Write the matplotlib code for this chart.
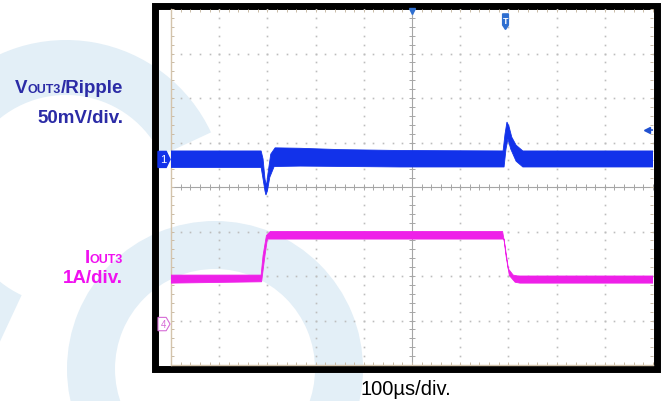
import numpy as np
import matplotlib.pyplot as plt
from matplotlib.patches import Rectangle, Wedge, Polygon

plt.rcParams['font.family'] = ['Liberation Sans', 'DejaVu Sans']

# Screen: 10 horizontal divisions of 100 us, 8 vertical divisions
t_div = 100.0
n_xdiv = 10
n_ydiv = 8

# Channel 1 (VOUT3 ripple) - envelope of the noisy trace, in divisions
blue_t_up = [0, 187, 191, 195, 198, 201, 207, 216, 268, 351, 475, 689, 693, 697, 701, 707, 716, 730, 1000]
blue_up = [4.81, 4.81, 4.63, 4.18, 4.02, 4.29, 4.74, 4.88, 4.87, 4.84, 4.82, 4.81, 5.19, 5.46, 5.37, 5.12, 4.94, 4.81, 4.81]
blue_t_lo = [0, 187, 191, 195, 197, 200, 205, 214, 268, 475, 691, 695, 699, 705, 716, 730, 1000]
blue_lo = [4.44, 4.44, 4.18, 3.91, 3.82, 3.91, 4.22, 4.46, 4.47, 4.45, 4.45, 4.85, 5.08, 4.85, 4.58, 4.45, 4.45]

# Channel 4 (IOUT3 load step) - envelope, in divisions
mag_t_up = [0, 187, 191, 198, 206, 688, 693, 700, 710, 720, 1000]
mag_up = [2.02, 2.02, 2.46, 2.91, 3.00, 3.00, 2.68, 2.16, 2.02, 2.00, 2.00]
mag_t_lo = [0, 188, 195, 200, 209, 691, 695, 702, 714, 724, 1000]
mag_lo = [1.84, 1.87, 2.46, 2.83, 2.83, 2.83, 2.46, 2.01, 1.86, 1.84, 1.84]

ch1_level = 4.62
ch4_level = 0.92
trig_time = 694
trig_level = 5.29

blue = '#1232ea'
magenta = '#ee20e8'
wm = '#e3eff7'

fig = plt.figure(figsize=(6.7, 4.02), dpi=100)

# background layer in pixel coordinates (y downwards)
bg = fig.add_axes([0, 0, 1, 1])
bg.set_xlim(0, 670)
bg.set_ylim(402, 0)
bg.axis('off')

# watermark rings
bg.add_patch(Wedge((66, 201), 160, 115, 335, width=55, color=wm, lw=0, zorder=0))
bg.add_patch(Wedge((215, 370), 148, 0, 360, width=48, color=wm, lw=0, zorder=0))

# scope frame
bg.add_patch(Rectangle((155, 6.5), 501.5, 363.5, fill=False, ec='black', lw=5.0, zorder=5))

# channel labels
lab_blue = '#2b2ba6'
lab_mag = '#f010f0'
bg.text(27.5, 93.3, 'V', color=lab_blue, fontsize=13.5, fontweight='bold', ha='right', va='baseline')
bg.text(61, 93.3, 'OUT3', color=lab_blue, fontsize=9, fontweight='bold', ha='right', va='baseline')
bg.text(123, 93.3, '/Ripple', color=lab_blue, fontsize=13.5, fontweight='bold', ha='right', va='baseline')
bg.text(123, 123.3, '50mV/div.', color=lab_blue, fontsize=13.5, fontweight='bold', ha='right', va='baseline')
bg.text(90.5, 263.3, 'I', color=lab_mag, fontsize=13.5, fontweight='bold', ha='right', va='baseline')
bg.text(123, 263.3, 'OUT3', color=lab_mag, fontsize=9, fontweight='bold', ha='right', va='baseline')
bg.text(123, 283.3, '1A/div.', color=lab_mag, fontsize=13.5, fontweight='bold', ha='right', va='baseline')
bg.text(405.5, 395, '100\u00b5s/div.', color='black', fontsize=14.5, ha='center', va='baseline')

# scope screen
ax = fig.add_axes([171 / 670, 36 / 402, 482 / 670, 356 / 402])
ax.set_facecolor('none')
ax.set_xlim(0, n_xdiv * t_div)
ax.set_ylim(0, n_ydiv)

major_x = np.arange(0, n_xdiv + 1) * t_div
minor_x = np.arange(0, n_xdiv * 5 + 1) * t_div / 5
major_y = np.arange(0, n_ydiv + 1)
minor_y = np.arange(0, n_ydiv * 5 + 1) / 5

ax.set_xticks(major_x)
ax.set_xticks(minor_x, minor=True)
ax.set_yticks(major_y)
ax.set_yticks(minor_y, minor=True)
ax.tick_params(which='both', direction='in', length=2.2, width=0.7, color='#c9bba6',
               top=True, right=True, labelbottom=False, labelleft=False)
for s in ['left', 'bottom']:
    ax.spines[s].set_color('#d4c4ac')
    ax.spines[s].set_linewidth(1.0)
for s in ['top', 'right']:
    ax.spines[s].set_visible(False)

# dotted graticule
gx, gy = [], []
for yv in major_y[1:-1]:
    if yv == n_ydiv / 2:
        continue
    gx.extend(minor_x)
    gy.extend([yv] * len(minor_x))
for xv in major_x[1:-1]:
    if xv == n_xdiv * t_div / 2:
        continue
    gx.extend([xv] * len(minor_y))
    gy.extend(minor_y)
ax.plot(gx, gy, 's', ms=1.2, mec='none', mfc='#bdbdbd', zorder=1)

# center cross with ticks
ax.axhline(n_ydiv / 2, color='#a6a6a6', lw=0.8, zorder=1)
ax.axvline(n_xdiv * t_div / 2, color='#a6a6a6', lw=0.8, zorder=1)
ax.plot(minor_x, [n_ydiv / 2] * len(minor_x), '|', ms=4, mew=0.7, color='#a6a6a6', zorder=1)
ax.plot([n_xdiv * t_div / 2] * len(minor_y), minor_y, '_', ms=4, mew=0.7, color='#a6a6a6', zorder=1)

# traces as filled envelopes
ax.fill(np.concatenate([blue_t_up, blue_t_lo[::-1]]), np.concatenate([blue_up, blue_lo[::-1]]),
        color=blue, lw=0.6, zorder=3)
ax.fill(np.concatenate([mag_t_up, mag_t_lo[::-1]]), np.concatenate([mag_up, mag_lo[::-1]]),
        color=magenta, lw=0.6, zorder=3)

# channel markers
ax.add_patch(Polygon([(-27, ch1_level + 0.18), (-10, ch1_level + 0.18), (-2, ch1_level),
                      (-10, ch1_level - 0.18), (-27, ch1_level - 0.18)],
                     closed=True, fc=blue, ec=blue, clip_on=False, zorder=4))
ax.text(-17, ch1_level, '1', color='white', fontsize=8, ha='center', va='center', clip_on=False, zorder=5)
ax.add_patch(Polygon([(-27, ch4_level + 0.15), (-10, ch4_level + 0.15), (-2, ch4_level),
                      (-10, ch4_level - 0.15), (-27, ch4_level - 0.15)],
                     closed=True, fc='white', ec='#d66cd6', lw=0.8, clip_on=False, zorder=4))
ax.text(-15, ch4_level, '4', color='#d66cd6', fontsize=7, ha='center', va='center', clip_on=False, zorder=5)

# trigger position / level markers
ax.add_patch(Polygon([(trig_time - 6, 7.89), (trig_time + 6, 7.89), (trig_time + 6, 7.64),
                      (trig_time, 7.54), (trig_time - 6, 7.64)],
                     closed=True, fc='#2f6fd0', ec='#2f6fd0', zorder=4))
ax.text(trig_time, 7.74, 'T', color='white', fontsize=6.5, fontweight='bold',
        ha='center', va='center', zorder=5)
ax.plot([n_xdiv * t_div / 2], [7.96], 'v', ms=5, color='#2f6fd0', clip_on=False, zorder=4)
ax.plot([988, 1000], [trig_level, trig_level], color='#2050d0', lw=1.2, zorder=4)
ax.plot([987], [trig_level], '<', ms=4.5, color='#2050d0', zorder=4)

fig.savefig('out.png', dpi=100)
